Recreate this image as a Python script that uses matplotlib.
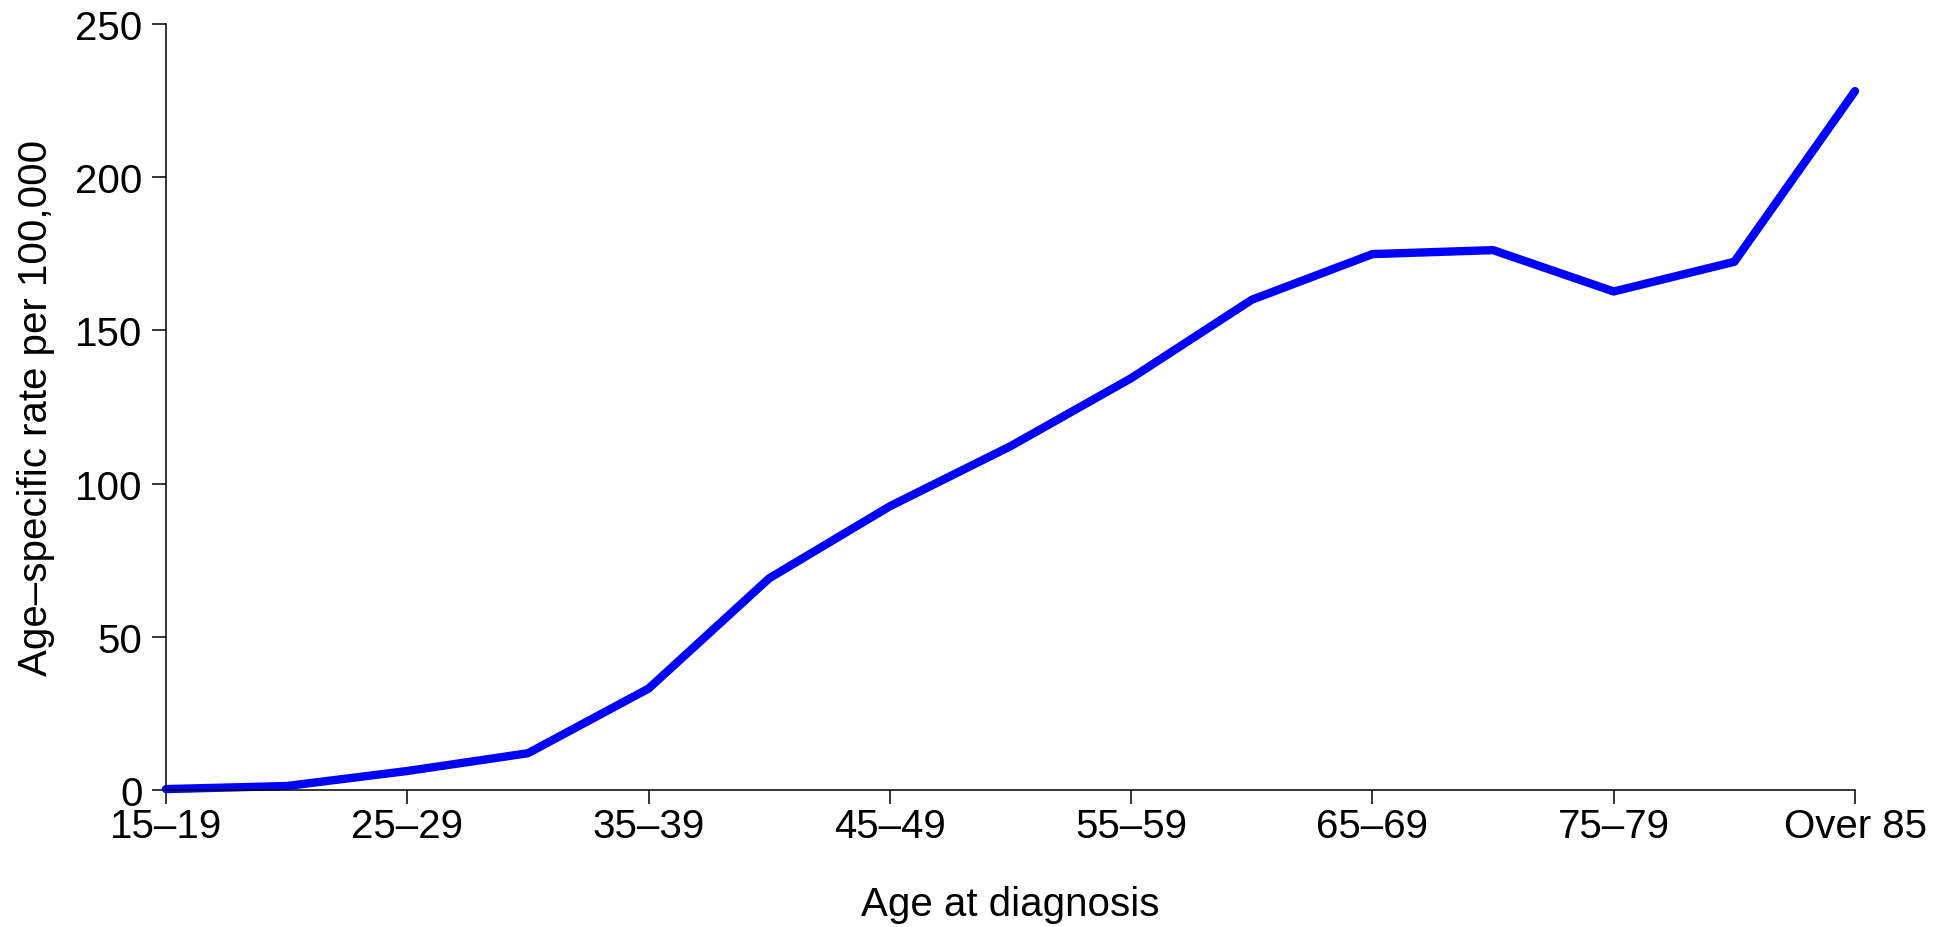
import matplotlib
matplotlib.use("Agg")
import matplotlib.pyplot as plt

# age groups and age-specific rates per 100,000
age_groups = ["15\u201319", "20\u201324", "25\u201329", "30\u201334", "35\u201339",
              "40\u201344", "45\u201349", "50\u201354", "55\u201359", "60\u201364",
              "65\u201369", "70\u201374", "75\u201379", "80\u201384", "Over 85"]
rates = [0.3, 1.3, 6.2, 12.0, 33.1, 69.1, 92.6, 112.2, 134.4, 160.0,
         174.9, 176.2, 162.7, 172.4, 228.1]
y_ticks = [0, 50, 100, 150, 200, 250]

plt.rcParams['font.family'] = ['Liberation Sans', 'DejaVu Sans']

fig = plt.figure(figsize=(19.39, 9.28), dpi=100)
# axes placed so the data range fills the drawn axis lines (R style)
ax = fig.add_axes([166 / 1939, 1 - 791 / 928, (1855 - 166) / 1939, (791 - 25) / 928])

x = list(range(1, len(age_groups) + 1))
ax.plot(x, rates, color="#0000ff", lw=6, solid_capstyle="round",
        solid_joinstyle="round", clip_on=False)

ax.set_xlim(1, len(age_groups))
ax.set_ylim(0, 250)

ax.set_xticks(x[::2])
ax.set_xticklabels(age_groups[::2])
ax.set_yticks(y_ticks)

for side in ["top", "right"]:
    ax.spines[side].set_visible(False)
for side in ["left", "bottom"]:
    ax.spines[side].set_linewidth(1.1)

ax.tick_params(axis="both", direction="out", length=10, width=1.1,
               labelsize=29, color="black")
ax.tick_params(axis="x", pad=2)
ax.tick_params(axis="y", pad=7)

ax.set_ylabel("Age\u2013specific rate per 100,000", fontsize=29, labelpad=14)
# x axis title, baseline placed near the bottom edge as in the original
fig.text(1010 / 1939, 1 - 916 / 928, "Age at diagnosis", fontsize=29,
         ha="center", va="baseline")

fig.savefig("out.png", dpi=100, facecolor="white")
